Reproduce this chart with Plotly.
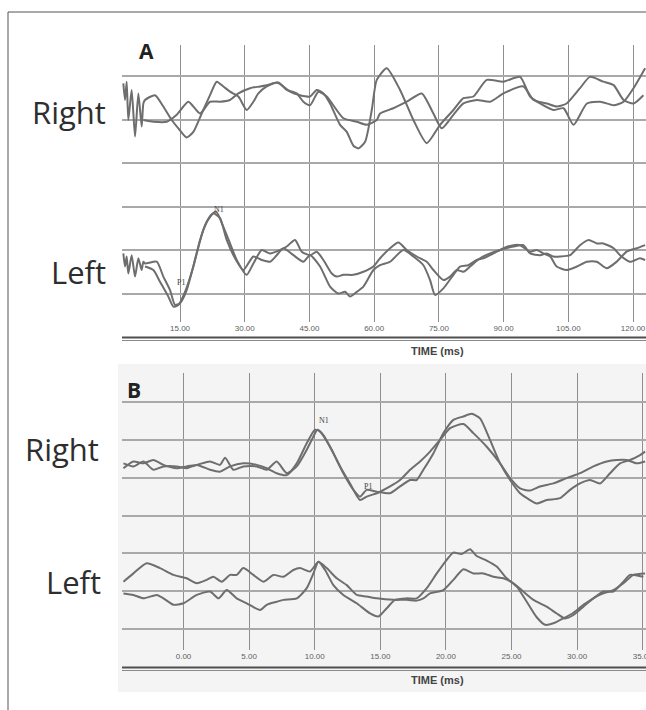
import plotly.graph_objects as go

W, H = 646, 710

def px(x):
    return x / W

def py(y):
    return 1 - y / H

# ---------------- DATA ----------------
# Panel A (time in ms, amplitude in grid divisions)
A_TICKS = [15, 30, 45, 60, 75, 90, 105, 120]
B_TICKS = [0, 5, 10, 15, 20, 25, 30, 35]

RA1_T = [1.86, 2.25, 2.63, 3.02, 3.79, 4.57, 5.34, 6.11, 6.50,
         6.88, 9.20, 11.13, 13.07, 14.61, 16.54, 18.09, 20.02, 21.95, 23.50,
         25.05, 26.59, 28.52, 30.45, 32.0, 33.16, 35.09, 37.41, 38.96, 40.50,
         42.82, 45.14, 46.68, 48.23, 49.77, 52.09, 53.64, 55.19, 56.34, 57.89,
         59.44, 60.59, 62.91, 66.0, 69.09, 72.18, 75.27, 78.36, 80.68, 83.0,
         86.09, 89.95, 93.82, 96.14, 98.45, 101.5, 103.9, 106.2, 109.3, 112.4,
         115.5, 117.8, 120.1, 122.8]
RA1_V = [4.83, 4.45, 4.87, 3.99, 4.68, 3.61, 4.60, 3.84, 4.37,
         4.45, 4.56, 4.30, 3.99, 3.80, 3.59, 3.72, 4.14, 4.56, 4.87,
         4.76, 4.64, 4.53, 4.22, 4.41, 4.60, 4.76, 4.85, 4.76, 4.64,
         4.56, 4.53, 4.68, 4.60, 4.37, 3.88, 3.72, 3.40, 3.34, 3.49,
         4.22, 4.91, 5.18, 4.68, 3.99, 3.46, 3.88, 4.22, 4.49, 4.53,
         4.91, 4.87, 4.98, 4.53, 4.37, 4.22, 4.26, 3.88, 4.37, 4.41,
         4.33, 4.41, 4.72, 5.18]

RA2_T = [6.50, 8.82, 11.91, 14.23, 16.93, 19.64, 21.95, 24.27, 26.59, 28.52,
         31.23, 33.55, 35.09, 37.80, 39.73, 42.05, 43.59, 45.14, 47.07, 49.0,
         52.87, 55.96, 58.27, 60.59, 61.36, 64.45, 67.54, 71.02, 73.72, 75.66,
         78.36, 80.68, 83.77, 86.86, 89.95, 94.59, 96.91, 100.0, 102.3, 104.6,
         107.7, 110.0, 113.1, 115.5, 117.8, 120.1, 122.4]
RA2_V = [3.99, 3.95, 3.95, 4.11, 4.41, 4.14, 4.41, 4.41, 4.45, 4.60,
         4.72, 4.76, 4.79, 4.85, 4.68, 4.60, 4.41, 4.33, 4.64, 4.53,
         4.03, 3.95, 3.88, 3.99, 4.14, 4.26, 4.41, 4.60, 4.14, 3.80,
         4.11, 4.37, 4.45, 4.41, 4.60, 4.76, 4.45, 4.37, 4.30, 4.37,
         4.72, 4.98, 4.87, 4.79, 4.45, 4.37, 4.56]

LA1_T = [1.86, 2.25, 2.63, 3.02, 3.79, 4.57, 5.34, 6.11, 6.50,
         6.88, 9.59, 11.13, 12.68, 13.84, 15.0, 16.54, 18.86, 20.41, 21.95,
         23.35, 25.05, 26.59, 28.14, 30.45, 32.0, 33.93, 35.86, 38.18, 39.73,
         41.66, 43.21, 45.14, 46.68, 48.23, 50.16, 51.32, 52.87, 55.19, 57.5,
         59.82, 61.36, 63.68, 65.61, 67.54, 69.86, 72.18, 73.72, 76.04, 77.59,
         79.13, 80.68, 82.23, 84.54, 86.86, 89.18, 92.27, 94.59, 96.14, 98.45,
         100.0, 101.5, 103.1, 105.4, 107.7, 109.7, 111.6, 113.1, 115.5, 117.0,
         119.3, 121.6, 122.8]
LA1_V = [0.93, 0.63, 0.86, 0.47, 0.89, 0.40, 0.82, 0.55, 0.74,
         0.70, 0.74, 0.40, 0.09, -0.25, -0.21, 0.09, 0.93, 1.47, 1.77,
         1.89, 1.54, 1.16, 0.78, 0.44, 0.70, 1.01, 0.93, 1.01, 1.09,
         1.24, 0.97, 0.89, 0.97, 0.78, 0.47, 0.40, 0.44, 0.44, 0.51,
         0.63, 0.82, 1.05, 1.18, 1.01, 0.86, 0.74, 0.55, 0.32, 0.40,
         0.55, 0.51, 0.63, 0.82, 0.93, 1.01, 1.09, 1.12, 0.93, 0.89,
         0.93, 0.86, 0.86, 0.89, 1.12, 1.24, 1.16, 1.16, 1.05, 0.89,
         0.74, 0.82, 0.78]

LA2_T = [6.88, 8.82, 10.36, 12.29, 13.45, 14.61, 16.16, 18.09, 19.64, 21.18,
         22.73, 24.27, 25.82, 27.75, 29.68, 32.0, 33.93, 35.86, 37.41, 38.96,
         41.27, 43.59, 45.14, 47.46, 49.77, 51.71, 53.25, 54.41, 55.96, 57.5,
         59.82, 61.36, 63.68, 66.77, 69.09, 71.41, 72.95, 74.11, 76.04, 78.36,
         79.91, 81.84, 83.77, 85.32, 87.64, 89.95, 92.27, 93.82, 96.14, 97.68,
         99.23, 100.8, 102.3, 104.6, 107.0, 109.3, 111.6, 113.9, 116.2, 118.5,
         120.9, 122.8]
LA2_V = [0.63, 0.55, 0.28, -0.06, -0.29, -0.25, 0.05, 0.63, 1.24, 1.66,
         1.85, 1.74, 1.24, 0.82, 0.55, 0.86, 0.78, 0.74, 0.89, 1.05,
         0.89, 0.74, 0.89, 0.63, 0.17, 0.01, 0.05, -0.06, 0.05, 0.17,
         0.55, 0.66, 0.74, 1.01, 0.86, 0.66, 0.32, -0.02, 0.13, 0.44,
         0.63, 0.66, 0.78, 0.82, 0.93, 1.05, 1.12, 1.12, 0.97, 1.01,
         0.93, 0.86, 0.63, 0.55, 0.63, 0.74, 0.74, 0.59, 0.74, 0.97,
         1.05, 1.12]

# Panel B
RB1_T = [-4.58, -3.82, -3.06, -2.30, -1.53, -0.52, 0.24, 1.01, 2.02, 2.78,
         3.17, 3.80, 4.56, 5.58, 6.34, 7.10, 7.87, 8.63, 9.39, 9.90,
         10.20, 10.66, 11.42, 12.18, 12.95, 13.45, 13.96, 14.73, 15.74, 16.50,
         17.27, 17.77, 18.28, 19.05, 19.81, 20.57, 21.33, 21.97, 22.60, 23.36,
         24.13, 24.89, 25.65, 26.41, 26.92, 27.68, 28.70, 29.46, 30.22, 30.99,
         31.75, 32.51, 33.27, 34.03, 34.80, 35.18]
RB1_V = [4.25, 4.43, 4.38, 4.47, 4.34, 4.25, 4.30, 4.34, 4.43, 4.34,
         4.53, 4.21, 4.30, 4.30, 4.21, 4.43, 4.12, 4.30, 4.74, 5.09,
         5.27, 5.13, 4.65, 4.12, 3.68, 3.50, 3.68, 3.63, 3.59, 3.77,
         3.94, 3.94, 4.21, 4.65, 5.18, 5.53, 5.62, 5.69, 5.57, 5.00,
         4.38, 3.94, 3.59, 3.41, 3.32, 3.41, 3.46, 3.68, 3.85, 3.94,
         3.85, 4.12, 4.38, 4.47, 4.60, 4.69]

RB2_T = [-4.58, -3.82, -3.06, -2.30, -1.53, -0.52, 0.24, 1.01, 2.02, 2.78,
         3.55, 4.56, 5.58, 6.34, 7.10, 7.87, 8.63, 9.39, 10.02, 10.41,
         11.17, 11.93, 12.69, 13.45, 13.96, 14.73, 14.98, 15.74, 16.50, 17.27,
         18.03, 18.79, 19.55, 20.32, 21.33, 22.09, 23.11, 24.13, 24.89, 25.65,
         26.41, 27.17, 28.19, 29.21, 30.22, 31.24, 32.26, 33.02, 33.78, 34.54,
         35.18]
RB2_V = [4.38, 4.30, 4.43, 4.21, 4.30, 4.30, 4.25, 4.34, 4.21, 4.16,
         4.30, 4.38, 4.34, 4.25, 4.12, 4.07, 4.38, 4.91, 5.27, 5.22,
         4.82, 4.30, 3.85, 3.41, 3.50, 3.59, 3.63, 3.77, 3.94, 4.21,
         4.43, 4.69, 5.00, 5.31, 5.42, 5.18, 4.82, 4.38, 3.99, 3.72,
         3.66, 3.77, 3.85, 3.99, 4.12, 4.30, 4.43, 4.47, 4.47, 4.38,
         4.43]

LB1_T = [-4.58, -3.82, -2.81, -1.79, -0.77, 0.24, 1.01, 1.77, 2.28, 2.91,
         3.55, 4.05, 4.56, 5.32, 6.09, 6.85, 7.61, 8.37, 8.88, 9.64,
         10.28, 10.91, 11.68, 12.44, 13.20, 13.96, 14.73, 16.00, 17.01, 17.77,
         18.28, 18.79, 19.81, 20.57, 21.33, 22.09, 22.86, 23.62, 24.38, 25.14,
         25.90, 26.67, 27.68, 28.45, 29.08, 29.72, 30.48, 31.24, 32.0, 32.76,
         33.53, 34.29, 35.18]
LB1_V = [1.25, 1.47, 1.74, 1.61, 1.43, 1.34, 1.21, 1.30, 1.38, 1.25,
         1.43, 1.43, 1.61, 1.43, 1.25, 1.43, 1.38, 1.56, 1.61, 1.52,
         1.78, 1.61, 1.34, 1.16, 0.90, 0.86, 0.81, 0.77, 0.77, 0.75,
         0.81, 0.94, 1.03, 1.30, 1.58, 1.47, 1.47, 1.38, 1.34, 1.21,
         0.99, 0.77, 0.59, 0.41, 0.28, 0.37, 0.59, 0.81, 0.94, 1.03,
         1.21, 1.43, 1.47]

LB2_T = [-4.58, -3.82, -3.06, -2.04, -1.53, -0.77, -0.01, 1.01, 2.02, 2.66,
         3.29, 4.05, 4.82, 5.83, 6.34, 7.10, 7.61, 8.63, 9.39, 9.90,
         10.28, 10.79, 11.42, 12.18, 13.20, 14.22, 14.85, 15.49, 16.12, 17.01,
         17.77, 18.54, 19.30, 20.06, 20.57, 21.20, 21.84, 22.35, 23.11, 23.87,
         24.63, 25.40, 26.16, 26.92, 27.56, 28.19, 28.95, 29.72, 30.48, 31.24,
         32.0, 32.76, 33.53, 34.03, 35.05]
LB2_V = [0.94, 0.90, 0.81, 0.90, 0.81, 0.64, 0.68, 0.90, 0.99, 0.81,
         1.03, 0.81, 0.68, 0.50, 0.64, 0.72, 0.77, 0.81, 1.08, 1.47,
         1.78, 1.56, 1.16, 0.90, 0.68, 0.41, 0.33, 0.55, 0.77, 0.81,
         0.81, 1.08, 1.47, 1.83, 2.02, 1.98, 2.11, 1.93, 1.81, 1.65,
         1.34, 1.12, 0.72, 0.31, 0.11, 0.15, 0.28, 0.43, 0.64, 0.81,
         0.99, 0.99, 1.25, 1.43, 1.38]

# ---------------- FIGURE ----------------
TRACE = "#6e6e6e"
fig = go.Figure()

for t, v, ax, ay in [(RA1_T, RA1_V, "x", "y"), (RA2_T, RA2_V, "x", "y"),
                     (LA1_T, LA1_V, "x", "y"), (LA2_T, LA2_V, "x", "y"),
                     (RB1_T, RB1_V, "x2", "y2"), (RB2_T, RB2_V, "x2", "y2"),
                     (LB1_T, LB1_V, "x2", "y2"), (LB2_T, LB2_V, "x2", "y2")]:
    fig.add_trace(go.Scatter(x=t, y=v, mode="lines", xaxis=ax, yaxis=ay,
                             line=dict(color=TRACE, width=2, shape="spline", smoothing=0.6),
                             hoverinfo="skip", showlegend=False))

tickfont = dict(family="Liberation Sans, Arial, sans-serif", size=8, color="#5e5e5e")
xcommon = dict(showgrid=True, gridcolor="#8e8e8e", gridwidth=1, zeroline=False,
               showline=False, ticks="", tickfont=tickfont, fixedrange=True,
               ticklabeloverflow="allow")
ycommon = dict(showgrid=True, gridcolor="#a9a9a9", gridwidth=1.6, zeroline=False,
               showline=False, showticklabels=False, ticks="", dtick=1, tick0=0,
               fixedrange=True)

fig.update_layout(
    width=W, height=H,
    margin=dict(l=0, r=0, t=0, b=0),
    paper_bgcolor="white", plot_bgcolor="rgba(0,0,0,0)",
    template="none",
    xaxis=dict(domain=[px(122), 1], range=[1.55, 123.0], anchor="y",
               tickvals=A_TICKS, ticktext=[f"{v:.2f}" for v in A_TICKS], **xcommon),
    yaxis=dict(domain=[py(322), py(45)], range=[-0.642, 5.711], anchor="x", **ycommon),
    xaxis2=dict(domain=[px(122), 1], range=[-4.69, 35.25], anchor="y2",
                tickvals=B_TICKS, ticktext=[f"{v:.2f}" for v in B_TICKS], **xcommon),
    yaxis2=dict(domain=[py(650), py(373)], range=[-0.556, 6.77], anchor="x2", **ycommon),
)

shapes = [
    # light scanned background of panel B
    dict(type="rect", xref="paper", yref="paper", x0=px(118), x1=1, y0=py(692), y1=py(364),
         fillcolor="#f4f4f4", line=dict(width=0), layer="below"),
    # outer frame
    dict(type="line", xref="paper", yref="paper", x0=px(8), x1=1, y0=py(12), y1=py(12),
         line=dict(color="#555555", width=1)),
    dict(type="line", xref="paper", yref="paper", x0=px(8), x1=px(8), y0=py(12), y1=0,
         line=dict(color="#555555", width=1)),
]
for yb in (337.5, 667.5):
    shapes.append(dict(type="line", xref="paper", yref="paper", x0=px(122), x1=1,
                       y0=py(yb), y1=py(yb), line=dict(color="#4f4f4f", width=1.8)))
    shapes.append(dict(type="line", xref="paper", yref="paper", x0=px(122), x1=1,
                       y0=py(yb + 3), y1=py(yb + 3), line=dict(color="#8a8a8a", width=1.2)))
fig.update_layout(shapes=shapes)

big = dict(family="Open Sans, Noto Sans, sans-serif", size=31, color="#2e2e2e")
ann = []
def add(text, x, y, font, xa="center", ya="middle"):
    ann.append(dict(text=text, x=px(x), y=py(y), xref="paper", yref="paper",
                    showarrow=False, font=font, xanchor=xa, yanchor=ya))

add("Right", 108, 112, big, xa="right")
add("Left", 108, 272, big, xa="right")
add("Right", 101, 449, big, xa="right")
add("Left", 103, 582, big, xa="right")
letter = dict(family="Open Sans, Noto Sans, sans-serif", size=21, color="#222222")
add("<b>A</b>", 146, 51, letter)
add("<b>B</b>", 134, 390, letter)
tfont = dict(family="Liberation Sans, Arial, sans-serif", size=11, color="#444444")
add("<b>TIME (ms)</b>", 438, 351, tfont)
add("<b>TIME (ms)</b>", 438, 680, tfont)
small = dict(family="Liberation Serif, DejaVu Serif, serif", size=8, color="#444444")
add("N1", 219, 209, small)
add("P1", 181, 282, small)
add("N1", 324, 420, small)
add("P1", 368, 486, small)
fig.update_layout(annotations=ann)

fig.write_html("out.html", config={"displayModeBar": False},
               post_script="document.body.style.margin='0px';document.body.style.overflow='hidden';")
